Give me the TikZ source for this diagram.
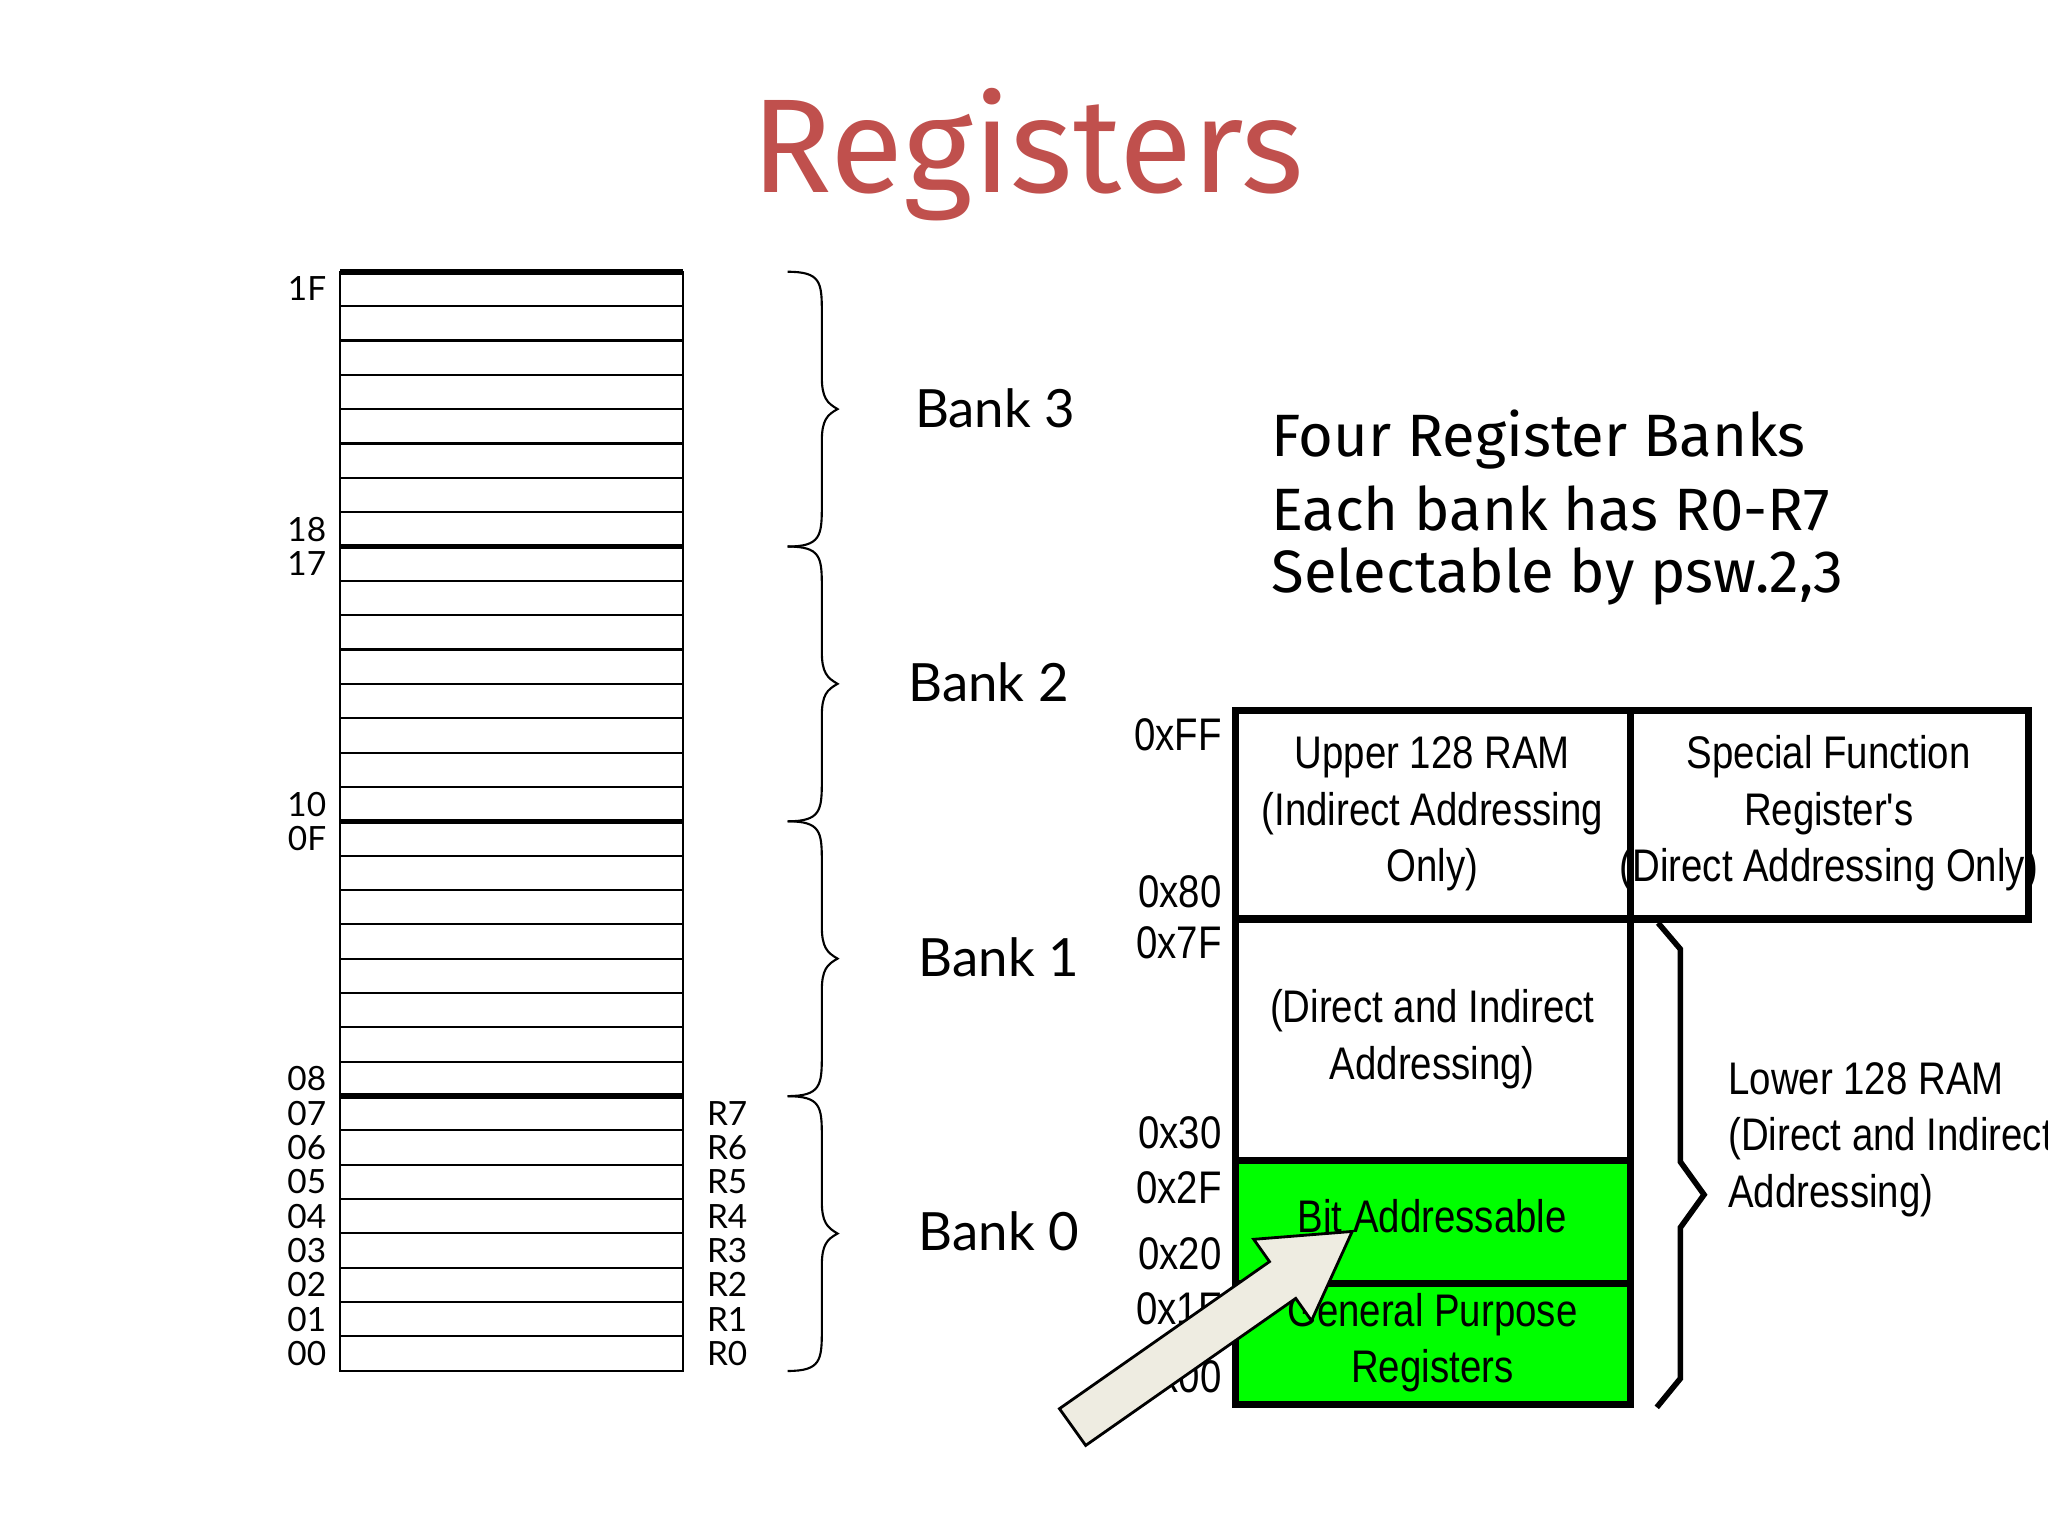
\documentclass[tikz,border=0pt]{standalone}
\usepackage{fontspec}
\usepackage{graphicx}
\setmainfont{Lato}
\newfontfamily\narrowf{Liberation Sans}
\newfontfamily\comicf{Fira Sans}
\newcommand\narc[1]{\scalebox{0.84}[1]{\begin{tabular}{@{}c@{}}#1\end{tabular}}}
\newcommand\narl[1]{\scalebox{0.84}[1]{\begin{tabular}{@{}l@{}}#1\end{tabular}}}
\definecolor{titlered}{RGB}{192,80,77}
\definecolor{arrowfill}{RGB}{238,236,225}
\begin{document}
\begin{tikzpicture}[x=0.013128cm,y=-0.013128cm,
  cell/.style={draw,line width=0.6pt},
  thick sep/.style={line width=1.6pt},
  addr/.style={font=\fontsize{9.5}{10}\selectfont,anchor=east,inner sep=0},
  reg/.style={font=\fontsize{9.5}{10}\selectfont,anchor=west,inner sep=0},
  bank/.style={font=\fontsize{15}{16}\selectfont},
  brace/.style={line width=0.6pt},
  ram/.style={font=\narrowf\fontsize{13}{16}\selectfont,inner sep=0},
  hexl/.style={font=\narrowf\fontsize{13}{14}\selectfont,anchor=east,inner sep=0},
  four/.style={font=\comicf\fontsize{17}{19}\selectfont,anchor=west,inner sep=0},
  box/.style={line width=2pt}]
\useasboundingbox (0,0) rectangle (1560,1170);
\fill[white] (0,0) rectangle (1560,1170);
\node[font=\comicf\fontsize{38}{40}\selectfont,text=titlered] (title) at (783,118) {Registers};
% register table
\foreach \i in {0,...,31} {\draw[cell] (259,{207+\i*26.16}) rectangle (520,{207+(\i+1)*26.16});}
\foreach \y in {207,416.3,625.6,835} {\draw[thick sep] (259,\y) -- (520,\y);}
\foreach \t/\r in {1F/0,18/7,17/8,10/15,0F/16,08/23,07/24,06/25,05/26,04/27,03/28,02/29,01/30,00/31}
  {\node[addr] (a\t) at (249,{207+(\r+0.5)*26.16}) {\t};}
\foreach \k in {0,...,7} {\node[reg] (r\k) at (538,{1031-\k*26.16}) {R\k};}
% braces
\foreach \top/\n in {207/3,416.3/2,625.6/1,835/0} {
  \draw[brace] (600,\top) .. controls (625,\top) and (626,{\top+8}) .. (626,{\top+30})
     -- (626,{\top+80}) .. controls (626,{\top+96}) and (630,{\top+100}) .. (638,{\top+104.6})
     .. controls (630,{\top+109}) and (626,{\top+113}) .. (626,{\top+129})
     -- (626,{\top+179}) .. controls (626,{\top+201}) and (625,{\top+209.3}) .. (600,{\top+209.3});
}
\node[bank] (b3) at (758,311) {Bank 3};
\node[bank] (b2) at (753,520) {Bank 2};
\node[bank] (b1) at (761,729) {Bank 1};
\node[bank] (b0) at (761,938) {Bank 0};
\node[four] (f1) at (968,335) {Four Register Banks};
\node[four] (f2) at (968,387) {Each bank has R0-R7};
\node[four] (f3) at (968,439) {Selectable by psw.2,3};
% memory map
\fill[green] (941,884) rectangle (1242,1070);
\draw[box] (941,541) rectangle (1545,700);
\draw[box] (1242,541) -- (1242,700);
\draw[box] (941,700) rectangle (1242,1070);
\draw[box] (941,884) -- (1242,884);
\draw[box] (941,978) -- (1242,978);
\node[ram] (up) at (1091,620) {\narc{Upper 128 RAM\\(Indirect Addressing\\Only)}};
\node[ram] (sfr) at (1393,620) {\narc{Special Function\\Register's\\(Direct Addressing Only)}};
\node[ram] (di) at (1091,792) {\narc{(Direct and Indirect\\Addressing)}};
\node[ram] (bit) at (1091,930) {\narc{Bit Addressable}};
\node[ram] (gp) at (1091,1023) {\narc{General Purpose\\Registers}};
\node[ram,anchor=west] (low) at (1316,868) {\narl{Lower 128 RAM\\(Direct and Indirect\\Addressing)}};
\foreach \t/\y in {0xFF/560,0x80/679,0x7F/718,0x30/863,0x2F/905,0x20/955,0x1F/997,0x00/1049}
  {\node[hexl] at (931,\y) {\scalebox{0.84}[1]{\t}};}
\draw[line width=1.6pt] (1263,703) -- (1280,723) -- (1280,885) -- (1298,910) -- (1280,935) -- (1280,1050) -- (1262,1072);
% block arrow
\draw[fill=arrowfill,line width=0.8pt] (807,1073) -- (967,961) -- (955,944) -- (1030,938) -- (999,1006) -- (987,989) -- (827,1101) -- cycle;
\end{tikzpicture}
\end{document}
